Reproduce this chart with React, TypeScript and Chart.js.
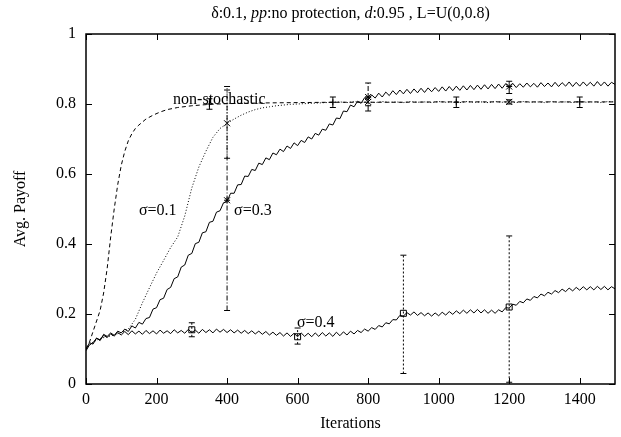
import React, { useEffect, useRef } from "react";
import { Chart, registerables } from "chart.js";

Chart.register(...registerables);

const FONT = '"Liberation Serif", "Times New Roman", Times, serif';

// ---- axis ticks ----
const X_TICKS = [0, 200, 400, 600, 800, 1000, 1200, 1400];
const Y_TICKS = [0, 0.2, 0.4, 0.6, 0.8, 1];

// ---- non-stochastic (dashed) ----
const nonStochX = [0, 10, 20, 30, 40, 50, 60, 70, 80, 90, 100, 110, 120, 130, 140, 150, 170, 190, 210, 230, 260, 300, 350, 400, 500, 600, 700, 800, 900, 1000, 1100, 1200, 1300, 1400, 1500];
const nonStochY = [0.10, 0.12, 0.15, 0.18, 0.21, 0.26, 0.33, 0.42, 0.50, 0.57, 0.625, 0.665, 0.695, 0.715, 0.73, 0.74, 0.757, 0.768, 0.777, 0.784, 0.79, 0.795, 0.799, 0.801, 0.803, 0.804, 0.805, 0.805, 0.805, 0.806, 0.806, 0.806, 0.806, 0.806, 0.806];

// ---- sigma = 0.1 (dotted), sampled every 20 iterations ----
const sigma01Step = 20;
const sigma01Y = [
  0.10, 0.12, 0.13, 0.135, 0.14, 0.147, 0.157, 0.185, 0.232, 0.275,
  0.317, 0.353, 0.39, 0.42, 0.48, 0.56, 0.62, 0.665, 0.705, 0.73,
  0.745, 0.757, 0.768, 0.777, 0.784, 0.789, 0.792, 0.795, 0.797, 0.799,
  0.800, 0.801, 0.802, 0.803, 0.804, 0.805, 0.806, 0.804, 0.807, 0.805,
  0.806, 0.804, 0.807, 0.805, 0.806, 0.804, 0.807, 0.805, 0.806, 0.804,
  0.807, 0.805, 0.806, 0.804, 0.807, 0.805, 0.806, 0.804, 0.807, 0.805,
  0.806, 0.804, 0.807, 0.805, 0.806, 0.804, 0.807, 0.805, 0.806, 0.804,
  0.807, 0.805, 0.806, 0.804, 0.807, 0.806
];

// ---- sigma = 0.3 (noisy), sampled every 10 iterations ----
const sigma03Step = 10;
const sigma03Y = [
  0.098, 0.118, 0.114, 0.131, 0.124, 0.142, 0.136, 0.146, 0.139, 0.151,
  0.146, 0.157, 0.150, 0.166, 0.160, 0.176, 0.171, 0.187, 0.190, 0.214,
  0.218, 0.241, 0.245, 0.270, 0.276, 0.301, 0.306, 0.334, 0.340, 0.368,
  0.373, 0.401, 0.405, 0.432, 0.435, 0.462, 0.465, 0.491, 0.495, 0.518,
  0.521, 0.545, 0.545, 0.569, 0.570, 0.594, 0.593, 0.613, 0.610, 0.631,
  0.627, 0.646, 0.641, 0.660, 0.655, 0.671, 0.664, 0.680, 0.673, 0.689,
  0.681, 0.696, 0.690, 0.706, 0.700, 0.716, 0.711, 0.728, 0.725, 0.743,
  0.740, 0.760, 0.758, 0.780, 0.778, 0.797, 0.792, 0.808, 0.802, 0.818,
  0.811, 0.826, 0.817, 0.831, 0.820, 0.834, 0.824, 0.838, 0.827, 0.840,
  0.829, 0.842, 0.830, 0.843, 0.832, 0.845, 0.833, 0.846, 0.835, 0.847,
  0.836, 0.849, 0.837, 0.850, 0.838, 0.851, 0.839, 0.852, 0.840, 0.853,
  0.841, 0.854, 0.842, 0.855, 0.843, 0.856, 0.844, 0.857, 0.845, 0.858,
  0.846, 0.859, 0.847, 0.858, 0.848, 0.860, 0.849, 0.859, 0.848, 0.861,
  0.850, 0.860, 0.849, 0.862, 0.850, 0.861, 0.851, 0.863, 0.850, 0.862,
  0.851, 0.863, 0.852, 0.862, 0.851, 0.864, 0.852, 0.863, 0.851, 0.862,
  0.856
];

// ---- sigma = 0.4 (noisy), sampled every 10 iterations ----
const sigma04Step = 10;
const sigma04Y = [
  0.095, 0.112, 0.118, 0.131, 0.126, 0.139, 0.133, 0.143, 0.137, 0.147,
  0.140, 0.150, 0.141, 0.152, 0.143, 0.151, 0.142, 0.153, 0.144, 0.152,
  0.143, 0.154, 0.145, 0.152, 0.144, 0.155, 0.146, 0.153, 0.145, 0.156,
  0.147, 0.154, 0.145, 0.156, 0.147, 0.155, 0.146, 0.157, 0.148, 0.156,
  0.147, 0.155, 0.146, 0.154, 0.145, 0.153, 0.144, 0.152, 0.143, 0.151,
  0.142, 0.150, 0.140, 0.148, 0.139, 0.147, 0.137, 0.146, 0.136, 0.145,
  0.135, 0.146, 0.136, 0.145, 0.135, 0.146, 0.136, 0.147, 0.137, 0.146,
  0.136, 0.148, 0.138, 0.149, 0.140, 0.151, 0.143, 0.153, 0.147, 0.157,
  0.151, 0.161, 0.156, 0.167, 0.163, 0.175, 0.172, 0.184, 0.183, 0.196,
  0.194, 0.204, 0.197, 0.206, 0.196, 0.204, 0.195, 0.203, 0.194, 0.203,
  0.195, 0.205, 0.197, 0.207, 0.199, 0.209, 0.201, 0.211, 0.202, 0.212,
  0.203, 0.213, 0.203, 0.212, 0.202, 0.211, 0.202, 0.212, 0.206, 0.218,
  0.217, 0.228, 0.225, 0.236, 0.232, 0.243, 0.239, 0.250, 0.246, 0.257,
  0.252, 0.262, 0.257, 0.267, 0.261, 0.271, 0.264, 0.274, 0.266, 0.276,
  0.268, 0.278, 0.269, 0.278, 0.269, 0.279, 0.270, 0.279, 0.269, 0.278,
  0.272
];

// ---- error bars ----
const nonStochErrX = [350, 700, 1050, 1400];
const nonStochErrLow = [0.785, 0.79, 0.79, 0.79];
const nonStochErrHigh = [0.815, 0.82, 0.82, 0.82];
const nonStochErrMid = [0.80, 0.805, 0.805, 0.806];

const sigma01ErrX = [400, 800, 1200];
const sigma01ErrLow = [0.645, 0.795, 0.80];
const sigma01ErrHigh = [0.85, 0.82, 0.812];
const sigma01ErrMid = [0.745, 0.806, 0.806];

const sigma03ErrX = [400, 800, 1200];
const sigma03ErrLow = [0.21, 0.78, 0.83];
const sigma03ErrHigh = [0.84, 0.86, 0.865];
const sigma03ErrMid = [0.525, 0.82, 0.85];

const sigma04ErrX = [300, 600, 900, 1200];
const sigma04ErrLow = [0.135, 0.114, 0.03, 0.005];
const sigma04ErrHigh = [0.175, 0.16, 0.368, 0.423];
const sigma04ErrMid = [0.155, 0.135, 0.202, 0.22];

// ---- in-plot labels ----
const labelText = ["non-stochastic", "\u03c3=0.1", "\u03c3=0.3", "\u03c3=0.4"];
const labelX = [247, 150, 420, 598];
const labelY = [0.80, 0.483, 0.483, 0.163];

const toPts = (xs: number[], ys: number[]) => ys.map((y, i) => ({ x: xs[i], y }));
const gridPts = (step: number, ys: number[]) => ys.map((y, i) => ({ x: i * step, y }));

const ERR_SETS = [
  { xs: nonStochErrX, lo: nonStochErrLow, hi: nonStochErrHigh, mid: nonStochErrMid, dash: [] as number[], marker: "plus" },
  { xs: sigma01ErrX, lo: sigma01ErrLow, hi: sigma01ErrHigh, mid: sigma01ErrMid, dash: [1, 2], marker: "x" },
  { xs: sigma03ErrX, lo: sigma03ErrLow, hi: sigma03ErrHigh, mid: sigma03ErrMid, dash: [5, 2, 1, 2], marker: "star" },
  { xs: sigma04ErrX, lo: sigma04ErrLow, hi: sigma04ErrHigh, mid: sigma04ErrMid, dash: [2, 2], marker: "square" },
];

const overlayPlugin = {
  id: "overlay",
  afterDatasetsDraw(chart: any) {
    const { ctx, chartArea: a } = chart;
    const xs = chart.scales.x;
    const ys = chart.scales.y;
    ctx.save();
    ctx.strokeStyle = "#000";
    ctx.fillStyle = "#000";

    // error bars + markers
    for (const s of ERR_SETS) {
      for (let i = 0; i < s.xs.length; i++) {
        const px = xs.getPixelForValue(s.xs[i]);
        const pl = ys.getPixelForValue(s.lo[i]);
        const ph = ys.getPixelForValue(s.hi[i]);
        const pm = ys.getPixelForValue(s.mid[i]);
        ctx.lineWidth = 1;
        ctx.setLineDash(s.dash);
        ctx.beginPath();
        ctx.moveTo(px, pl);
        ctx.lineTo(px, ph);
        ctx.stroke();
        ctx.setLineDash([]);
        ctx.beginPath();
        ctx.moveTo(px - 3, pl);
        ctx.lineTo(px + 3, pl);
        ctx.moveTo(px - 3, ph);
        ctx.lineTo(px + 3, ph);
        ctx.stroke();
        const r = 3;
        ctx.beginPath();
        if (s.marker === "plus" || s.marker === "star") {
          ctx.moveTo(px - r, pm);
          ctx.lineTo(px + r, pm);
          ctx.moveTo(px, pm - r);
          ctx.lineTo(px, pm + r);
        }
        if (s.marker === "x" || s.marker === "star") {
          ctx.moveTo(px - r, pm - r);
          ctx.lineTo(px + r, pm + r);
          ctx.moveTo(px - r, pm + r);
          ctx.lineTo(px + r, pm - r);
        }
        if (s.marker === "square") {
          ctx.rect(px - 3, pm - 3, 6, 6);
        }
        ctx.stroke();
      }
    }

    // frame
    ctx.setLineDash([]);
    ctx.lineWidth = 1.5;
    ctx.strokeRect(a.left, a.top, a.right - a.left, a.bottom - a.top);

    // inward ticks on all four sides
    ctx.lineWidth = 1;
    ctx.beginPath();
    for (const v of X_TICKS) {
      const p = Math.round(xs.getPixelForValue(v)) + 0.5;
      ctx.moveTo(p, a.bottom);
      ctx.lineTo(p, a.bottom - 6);
      ctx.moveTo(p, a.top);
      ctx.lineTo(p, a.top + 6);
    }
    for (const v of Y_TICKS) {
      const p = Math.round(ys.getPixelForValue(v)) + 0.5;
      ctx.moveTo(a.left, p);
      ctx.lineTo(a.left + 6, p);
      ctx.moveTo(a.right, p);
      ctx.lineTo(a.right - 6, p);
    }
    ctx.stroke();

    // in-plot labels
    ctx.font = `16px ${FONT}`;
    ctx.textAlign = "left";
    ctx.textBaseline = "alphabetic";
    for (let i = 0; i < labelText.length; i++) {
      ctx.fillText(labelText[i], xs.getPixelForValue(labelX[i]), ys.getPixelForValue(labelY[i]));
    }

    // title (mixed italic)
    const segs: [string, boolean][] = [
      ["\u03b4:0.1, ", false],
      ["pp", true],
      [":no protection, ", false],
      ["d", true],
      [":0.95 , L=U(0,0.8)", false],
    ];
    let total = 0;
    for (const [t, it] of segs) {
      ctx.font = `${it ? "italic " : ""}16px ${FONT}`;
      total += ctx.measureText(t).width;
    }
    let tx = (a.left + a.right) / 2 - total / 2;
    ctx.textBaseline = "middle";
    for (const [t, it] of segs) {
      ctx.font = `${it ? "italic " : ""}16px ${FONT}`;
      ctx.fillText(t, tx, 14);
      tx += ctx.measureText(t).width;
    }

    // axis titles
    ctx.font = `16px ${FONT}`;
    ctx.textAlign = "center";
    ctx.textBaseline = "middle";
    ctx.fillText("Iterations", (a.left + a.right) / 2, 424);
    ctx.translate(21, (a.top + a.bottom) / 2);
    ctx.rotate(-Math.PI / 2);
    ctx.fillText("Avg. Payoff", 0, 0);
    ctx.restore();
  },
};

export default function App() {
  const ref = useRef<HTMLCanvasElement | null>(null);
  useEffect(() => {
    if (!ref.current) return;
    const tickFont = { family: FONT, size: 16 };
    const chart = new Chart(ref.current, {
      type: "line",
      data: {
        datasets: [
          {
            label: "non-stochastic",
            data: toPts(nonStochX, nonStochY),
            borderColor: "#000",
            borderWidth: 1,
            borderDash: [4, 3],
            pointRadius: 0,
            fill: false,
            tension: 0,
          },
          {
            label: "sigma=0.1",
            data: gridPts(sigma01Step, sigma01Y),
            borderColor: "#000",
            borderWidth: 1,
            borderDash: [1, 2],
            pointRadius: 0,
            fill: false,
            tension: 0,
          },
          {
            label: "sigma=0.3",
            data: gridPts(sigma03Step, sigma03Y),
            borderColor: "#000",
            borderWidth: 1,
            pointRadius: 0,
            fill: false,
            tension: 0,
          },
          {
            label: "sigma=0.4",
            data: gridPts(sigma04Step, sigma04Y),
            borderColor: "#000",
            borderWidth: 1,
            pointRadius: 0,
            fill: false,
            tension: 0,
          },
        ],
      },
      options: {
        animation: false,
        responsive: true,
        maintainAspectRatio: false,
        layout: { padding: { top: 34, right: 6, left: 0, bottom: 0 } },
        plugins: { legend: { display: false }, tooltip: { enabled: false }, title: { display: false } },
        scales: {
          x: {
            type: "linear",
            min: 0,
            max: 1500,
            grid: { display: false, drawTicks: false },
            border: { display: false },
            afterBuildTicks: (s: any) => {
              s.ticks = X_TICKS.map((v) => ({ value: v }));
            },
            afterFit: (s: any) => {
              s.height = 53;
            },
            ticks: {
              font: tickFont,
              color: "#000",
              padding: 6,
              maxRotation: 0,
              autoSkip: false,
              callback: (v: any) => String(v),
            },
          },
          y: {
            type: "linear",
            min: 0,
            max: 1,
            grid: { display: false, drawTicks: false },
            border: { display: false },
            afterBuildTicks: (s: any) => {
              s.ticks = Y_TICKS.map((v) => ({ value: v }));
            },
            afterFit: (s: any) => {
              s.width = 86;
            },
            ticks: {
              font: tickFont,
              color: "#000",
              padding: 10,
              autoSkip: false,
              callback: (v: any) => String(parseFloat(Number(v).toFixed(1))),
            },
          },
        },
      },
      plugins: [overlayPlugin],
    });
    return () => chart.destroy();
  }, []);
  return (
    <div style={{ position: "fixed", left: 0, top: 0, width: 621, height: 437, background: "#fff" }}>
      <canvas ref={ref} />
    </div>
  );
}
